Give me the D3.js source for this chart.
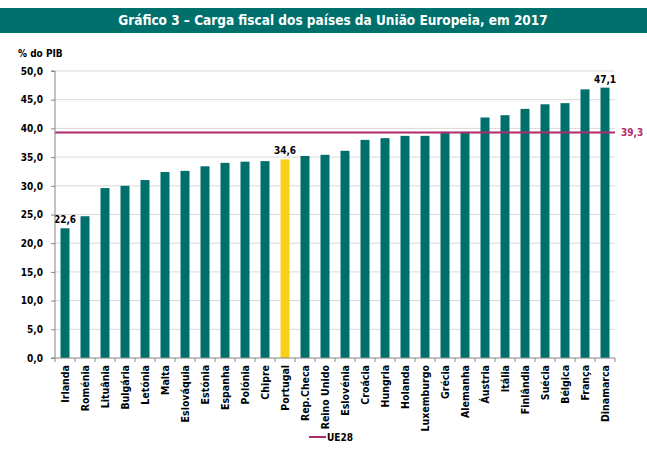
<!DOCTYPE html>
<html lang="pt">
<head>
<meta charset="UTF-8">
<title>Carga fiscal UE 2017</title>
<script src="https://d3js.org/d3.v7.min.js"></script>
<style>
  body { margin: 0; background: #fff; }
  svg text { font-family: "DejaVu Sans Condensed", "DejaVu Sans", sans-serif; font-weight: bold; }
</style>
</head>
<body>
<svg></svg>
<script>
// data
const countries = ["Irlanda", "Roménia", "Lituânia", "Bulgária", "Letónia", "Malta", "Eslováquia",
  "Estónia", "Espanha", "Polónia", "Chipre", "Portugal", "Rep.Checa", "Reino Unido", "Eslovénia",
  "Croácia", "Hungria", "Holanda", "Luxemburgo", "Grécia", "Alemanha", "Áustria", "Itália",
  "Finlândia", "Suécia", "Bélgica", "França", "Dinamarca"];
const taxBurden = [22.6, 24.7, 29.6, 30.0, 31.0, 32.4, 32.6, 33.4, 34.0, 34.2, 34.3, 34.6, 35.2, 35.4,
  36.1, 38.0, 38.3, 38.7, 38.7, 39.4, 39.4, 41.9, 42.3, 43.4, 44.2, 44.4, 46.8, 47.1];
const ue28 = 39.3;
const yTicks = [0, 5, 10, 15, 20, 25, 30, 35, 40, 45, 50];
const labelled = ["Irlanda", "Portugal", "Dinamarca"];

const W = 647, H = 449;
const margin = { top: 71, right: 32, bottom: 91, left: 55 };
const teal = "#00706c", yellow = "#f9cf1a", magenta = "#b02a6b";
const fmt = v => v.toFixed(1).replace(".", ",");

const svg = d3.select("svg").attr("width", W).attr("height", H);

// header band
svg.append("rect").attr("x", 0).attr("y", 8).attr("width", W).attr("height", 25).attr("fill", teal);
svg.append("text")
  .attr("x", 333).attr("y", 25)
  .attr("text-anchor", "middle")
  .attr("fill", "#fff")
  .style("font-size", "13.5px")
  .text("Gráfico 3 – Carga fiscal dos países da União Europeia, em 2017");

const g = svg.append("g").attr("transform", `translate(${margin.left},${margin.top})`);
const w = W - margin.left - margin.right;
const h = H - margin.top - margin.bottom;

const x = d3.scaleBand().domain(countries).range([0, w]).paddingInner(0.55).paddingOuter(0.275);
const y = d3.scaleLinear().domain([0, 50]).range([h, 0]);

// gridlines
g.append("g").selectAll("line").data(yTicks.filter(t => t > 0)).join("line")
  .attr("x1", 0).attr("x2", w)
  .attr("y1", d => y(d)).attr("y2", d => y(d))
  .attr("stroke", "#d9d9d9").attr("stroke-width", 1);

// bars
g.append("g").selectAll("rect").data(countries).join("rect")
  .attr("x", d => x(d))
  .attr("y", (d, i) => y(taxBurden[i]))
  .attr("width", x.bandwidth())
  .attr("height", (d, i) => h - y(taxBurden[i]))
  .attr("fill", d => d === "Portugal" ? yellow : teal);

// value labels
g.append("g").selectAll("text").data(labelled).join("text")
  .attr("x", d => x(d) + x.bandwidth() / 2)
  .attr("y", d => y(taxBurden[countries.indexOf(d)]) - 5)
  .attr("text-anchor", "middle")
  .attr("fill", "#000")
  .style("font-size", "10px")
  .text(d => fmt(taxBurden[countries.indexOf(d)]));

// UE28 line
g.append("line")
  .attr("x1", 0).attr("x2", w)
  .attr("y1", y(ue28)).attr("y2", y(ue28))
  .attr("stroke", magenta).attr("stroke-width", 2);
g.append("text")
  .attr("x", w + 6).attr("y", y(ue28) + 4)
  .attr("fill", magenta)
  .style("font-size", "10px")
  .text(fmt(ue28));

// y axis
const yAxis = g.append("g")
  .call(d3.axisLeft(y).tickValues(yTicks).tickSize(4).tickPadding(8).tickFormat(fmt));
yAxis.selectAll("path, line").attr("stroke", "#868686");
yAxis.selectAll("text").attr("fill", "#000").style("font-size", "10px");
yAxis.select(".domain").attr("d", `M-4,${h}H0V0H-4`);

// x axis: ticks at category boundaries
const step = x.step();
const xAxis = g.append("g").attr("transform", `translate(0,${h})`);
xAxis.append("line").attr("x1", 0).attr("x2", w).attr("stroke", "#868686");
xAxis.selectAll(".bt").data(d3.range(countries.length + 1)).join("line")
  .attr("class", "bt")
  .attr("x1", i => i * step)
  .attr("x2", i => i * step)
  .attr("y1", 0).attr("y2", 4)
  .attr("stroke", "#868686");
xAxis.selectAll(".lbl").data(countries).join("text")
  .attr("class", "lbl")
  .attr("transform", d => `translate(${x(d) + x.bandwidth() / 2 + 4},7) rotate(-90)`)
  .attr("text-anchor", "end")
  .attr("fill", "#000")
  .style("font-size", "10.5px")
  .text(d => d);

// axis title
svg.append("text").attr("x", 18).attr("y", 57).attr("fill", "#000").style("font-size", "10px").text("% do PIB");

// legend
svg.append("line").attr("x1", 309).attr("x2", 326).attr("y1", 437).attr("y2", 437)
  .attr("stroke", magenta).attr("stroke-width", 2);
svg.append("text").attr("x", 327).attr("y", 441).attr("fill", "#000").style("font-size", "10px").text("UE28");
</script>
</body>
</html>
